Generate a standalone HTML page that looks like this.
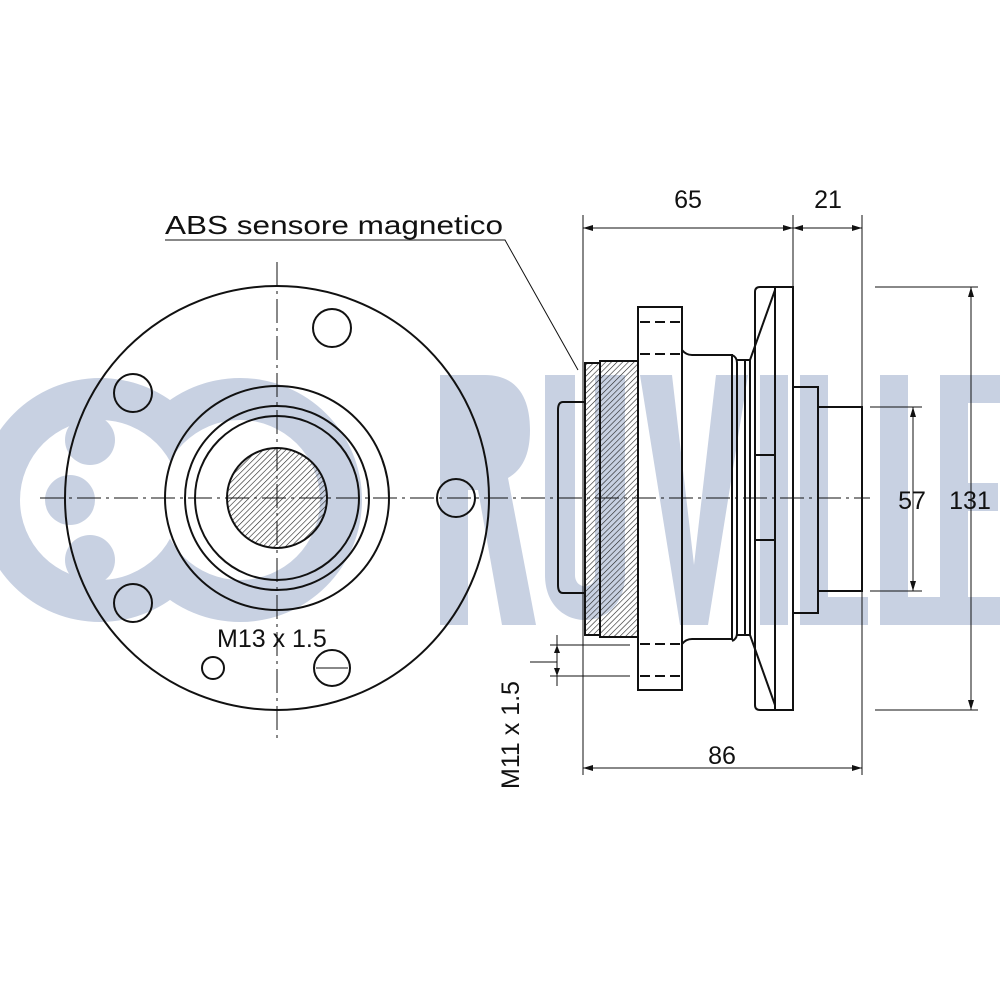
<!DOCTYPE html><html><head><style>body{margin:0;background:#fff}svg{display:block}text{font-family:"Liberation Sans",sans-serif;fill:#111}</style></head><body>
<svg width="1000" height="1000" viewBox="0 0 1000 1000" xmlns="http://www.w3.org/2000/svg">
<defs>
<pattern id="h" width="4" height="4" patternUnits="userSpaceOnUse" patternTransform="rotate(45)"><line x1="0" y1="0" x2="0" y2="4" stroke="#222" stroke-width="1.2"/></pattern>
</defs>
<g fill="#c8d1e2">
<circle cx="100" cy="500" r="122"/>
<circle cx="240" cy="500" r="122"/>
<path d="M440 375h45c30 0 45 20 45 55 0 25-8 40-22 48l28 147h-34l-24-135h-10v135h-28z"/>
<path d="M545 375h30v200c0 15 20 15 20 0v-200h30v200c0 60-80 60-80 0z"/>
<path d="M640 375h32l22 190 22-190h32l-40 250h-28z"/>
<rect x="760" y="375" width="28" height="250"/>
<path d="M800 375h28v222h40v28h-68z"/>
<path d="M880 375h28v222h40v28h-68z"/>
<path d="M940 375h60v28h-32v80h30v28h-30v86h32v28h-60z"/>
</g>
<g fill="#fff"><circle cx="100" cy="500" r="80"/><circle cx="240" cy="500" r="80"/></g>
<g fill="#c8d1e2"><circle cx="90" cy="440" r="25"/><circle cx="90" cy="560" r="25"/><circle cx="70" cy="500" r="25"/></g>
<g fill="none" stroke="#111" stroke-width="2">
<circle cx="277" cy="498" r="212"/>
<circle cx="277" cy="498" r="112"/>
<circle cx="277" cy="498" r="92"/>
<circle cx="277" cy="498" r="82"/>
<circle cx="277" cy="498" r="50" fill="url(#h)"/>
<circle cx="332" cy="328" r="19"/>
<circle cx="133" cy="393" r="19"/>
<circle cx="133" cy="603" r="19"/>
<circle cx="456" cy="498" r="19"/>
<circle cx="213" cy="668" r="11"/>
<circle cx="332" cy="668" r="18"/>
</g>
<g stroke="#111" stroke-width="1">
<line x1="316" y1="668" x2="348" y2="668"/>
<line x1="40" y1="498" x2="870" y2="498" stroke-dasharray="24,5,3,5"/>
<line x1="277" y1="262" x2="277" y2="740" stroke-dasharray="24,5,3,5"/>
</g>
<text x="217" y="647" font-size="25">M13 x 1.5</text>
<text x="165" y="234" font-size="26" textLength="338" lengthAdjust="spacingAndGlyphs">ABS sensore magnetico</text>
<polyline points="165,240 505,240 578,370" fill="none" stroke="#111" stroke-width="1"/>
<g stroke="#111" stroke-width="2" fill="none">
<path d="M585 402h-22q-5 0-5 8v175q0 8 5 8h22"/>
<rect x="585" y="363" width="15" height="272" fill="url(#h)"/>
<rect x="600" y="361" width="38" height="276" fill="url(#h)"/>
<rect x="638" y="307" width="44" height="383"/>
<path d="M682 350q4 5 10 5h40v284h-40q-6 0-10 5"/>
<path d="M732 355q5 2 5 8v270q0 6-5 8M737 360h13v275h-13M745 360v275"/>
<path d="M760 287h33v423h-33q-5 0-5-5v-413q0-5 5-5z"/>
<line x1="775" y1="287" x2="775" y2="710"/>
<path d="M750 360l25-70M750 635l25 70"/>
<path d="M793 387h25v226h-25M818 407h44v184h-44"/>
<path d="M755 455h20M755 540h20"/>
</g>
<g stroke="#111" stroke-width="2" stroke-dasharray="10,5">
<line x1="640" y1="322" x2="682" y2="322"/><line x1="640" y1="354" x2="682" y2="354"/>
<line x1="640" y1="644" x2="682" y2="644"/><line x1="640" y1="676" x2="682" y2="676"/>
</g>
<g stroke="#111" stroke-width="1" fill="none">
<line x1="583" y1="215" x2="583" y2="775"/>
<line x1="862" y1="215" x2="862" y2="775"/>
<line x1="793" y1="215" x2="793" y2="287"/>
<line x1="583" y1="228" x2="862" y2="228"/>
<line x1="583" y1="768" x2="862" y2="768"/>
<line x1="870" y1="407" x2="922" y2="407"/><line x1="870" y1="591" x2="922" y2="591"/>
<line x1="913" y1="407" x2="913" y2="591"/>
<line x1="875" y1="287" x2="978" y2="287"/><line x1="875" y1="710" x2="978" y2="710"/>
<line x1="971" y1="287" x2="971" y2="710"/>
<line x1="550" y1="645" x2="630" y2="645"/><line x1="550" y1="676" x2="630" y2="676"/>
<line x1="557" y1="635" x2="557" y2="686"/>
<line x1="530" y1="662" x2="557" y2="662"/>
</g>
<g fill="#111">
<path d="M583 228l10-3v6zM793 228l-10-3v6zM793 228l10-3v6zM862 228l-10-3v6z"/>
<path d="M583 768l10-3v6zM862 768l-10-3v6z"/>
<path d="M913 407l-3 10h6zM913 591l-3-10h6z"/>
<path d="M971 287l-3 10h6zM971 710l-3-10h6z"/>
<path d="M557 645l-3 8h6zM557 676l-3-8h6z"/>
</g>
<text x="688" y="208" font-size="25" text-anchor="middle">65</text>
<text x="828" y="208" font-size="25" text-anchor="middle">21</text>
<text x="722" y="764" font-size="25" text-anchor="middle">86</text>
<text x="912" y="509" font-size="25" text-anchor="middle">57</text>
<text x="970" y="509" font-size="25" text-anchor="middle">131</text>
<text transform="translate(519,735) rotate(-90)" font-size="25" text-anchor="middle">M11 x 1.5</text>
</svg>
</body></html>
